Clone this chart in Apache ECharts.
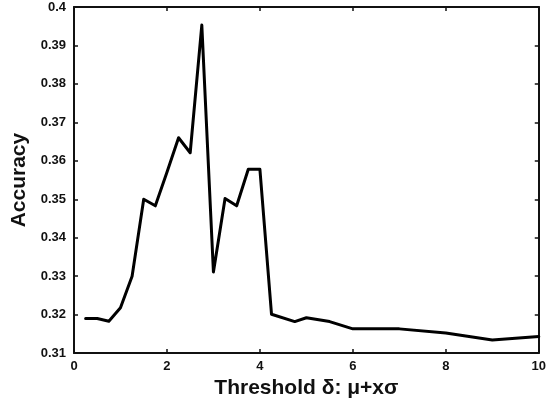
<!DOCTYPE html>
<html>
<head>
<meta charset="utf-8">
<script src="https://cdn.jsdelivr.net/npm/echarts@6/dist/echarts.min.js"></script>
<style>
  html, body { margin: 0; padding: 0; background: #fff; }
  #chart { width: 549px; height: 404px; }
</style>
</head>
<body>
<div id="chart"></div>
<script>
// Threshold multiplier x (in delta = mu + x*sigma)
const thresholds = [0.25, 0.5, 0.75, 1.0, 1.25, 1.5, 1.75, 2.0, 2.25, 2.5, 2.75,
                    3.0, 3.25, 3.5, 3.75, 4.0, 4.25, 4.75, 5.0, 5.5, 6, 7, 8, 9, 10];
// Classification accuracy at each threshold
const accuracy = [0.319, 0.319, 0.3183, 0.3218, 0.330, 0.350, 0.3483, 0.357, 0.366, 0.3621, 0.3953,
                  0.3311, 0.3502, 0.3483, 0.3578, 0.3578, 0.3201, 0.3182, 0.3192, 0.3182,
                  0.3163, 0.3163, 0.3152, 0.3134, 0.3143];

const xTicks = { min: 0, max: 10, step: 2 };
const yTicks = { min: 0.31, max: 0.40, step: 0.01 };

const chart = echarts.init(document.getElementById('chart'), null, { renderer: 'canvas' });

const labelFont = { fontFamily: 'Liberation Sans, Arial, sans-serif', fontWeight: 'bold', fontSize: 13, color: '#111' };
const nameFont = { fontFamily: 'Liberation Sans, Arial, sans-serif', fontWeight: 'bold', fontSize: 21, color: '#111' };
const frameLine = { show: true, onZero: false, lineStyle: { color: '#111', width: 2 } };
const innerTick = { show: true, inside: true, length: 4, lineStyle: { color: '#111', width: 1.5 } };

const fmtY = v => String(parseFloat(v.toFixed(2)));

chart.setOption({
  animation: false,
  backgroundColor: '#fff',
  grid: { left: 74, right: 4, top: 7, bottom: 49, containLabel: false },
  xAxis: [
    {
      type: 'value', min: xTicks.min, max: xTicks.max, interval: xTicks.step,
      axisLine: frameLine, axisTick: innerTick, splitLine: { show: false },
      axisLabel: Object.assign({ margin: 7 }, labelFont),
      name: 'Threshold δ: μ+xσ', nameLocation: 'middle', nameGap: 22, nameTextStyle: nameFont
    },
    {
      type: 'value', position: 'top', min: xTicks.min, max: xTicks.max, interval: xTicks.step,
      axisLine: frameLine, axisTick: innerTick, axisLabel: { show: false }, splitLine: { show: false }
    }
  ],
  yAxis: [
    {
      type: 'value', min: yTicks.min, max: yTicks.max, interval: yTicks.step,
      axisLine: frameLine, axisTick: innerTick, splitLine: { show: false },
      axisLabel: Object.assign({ margin: 8, formatter: fmtY }, labelFont),
      name: 'Accuracy', nameLocation: 'middle', nameGap: 39, nameTextStyle: nameFont
    },
    {
      type: 'value', position: 'right', min: yTicks.min, max: yTicks.max, interval: yTicks.step,
      axisLine: frameLine, axisTick: innerTick, axisLabel: { show: false }, splitLine: { show: false }
    }
  ],
  series: [{
    type: 'line',
    xAxisIndex: 0, yAxisIndex: 0,
    data: thresholds.map((t, i) => [t, accuracy[i]]),
    symbol: 'none',
    lineStyle: { color: '#000', width: 3, join: 'round', cap: 'round' }
  }]
});
</script>
</body>
</html>
